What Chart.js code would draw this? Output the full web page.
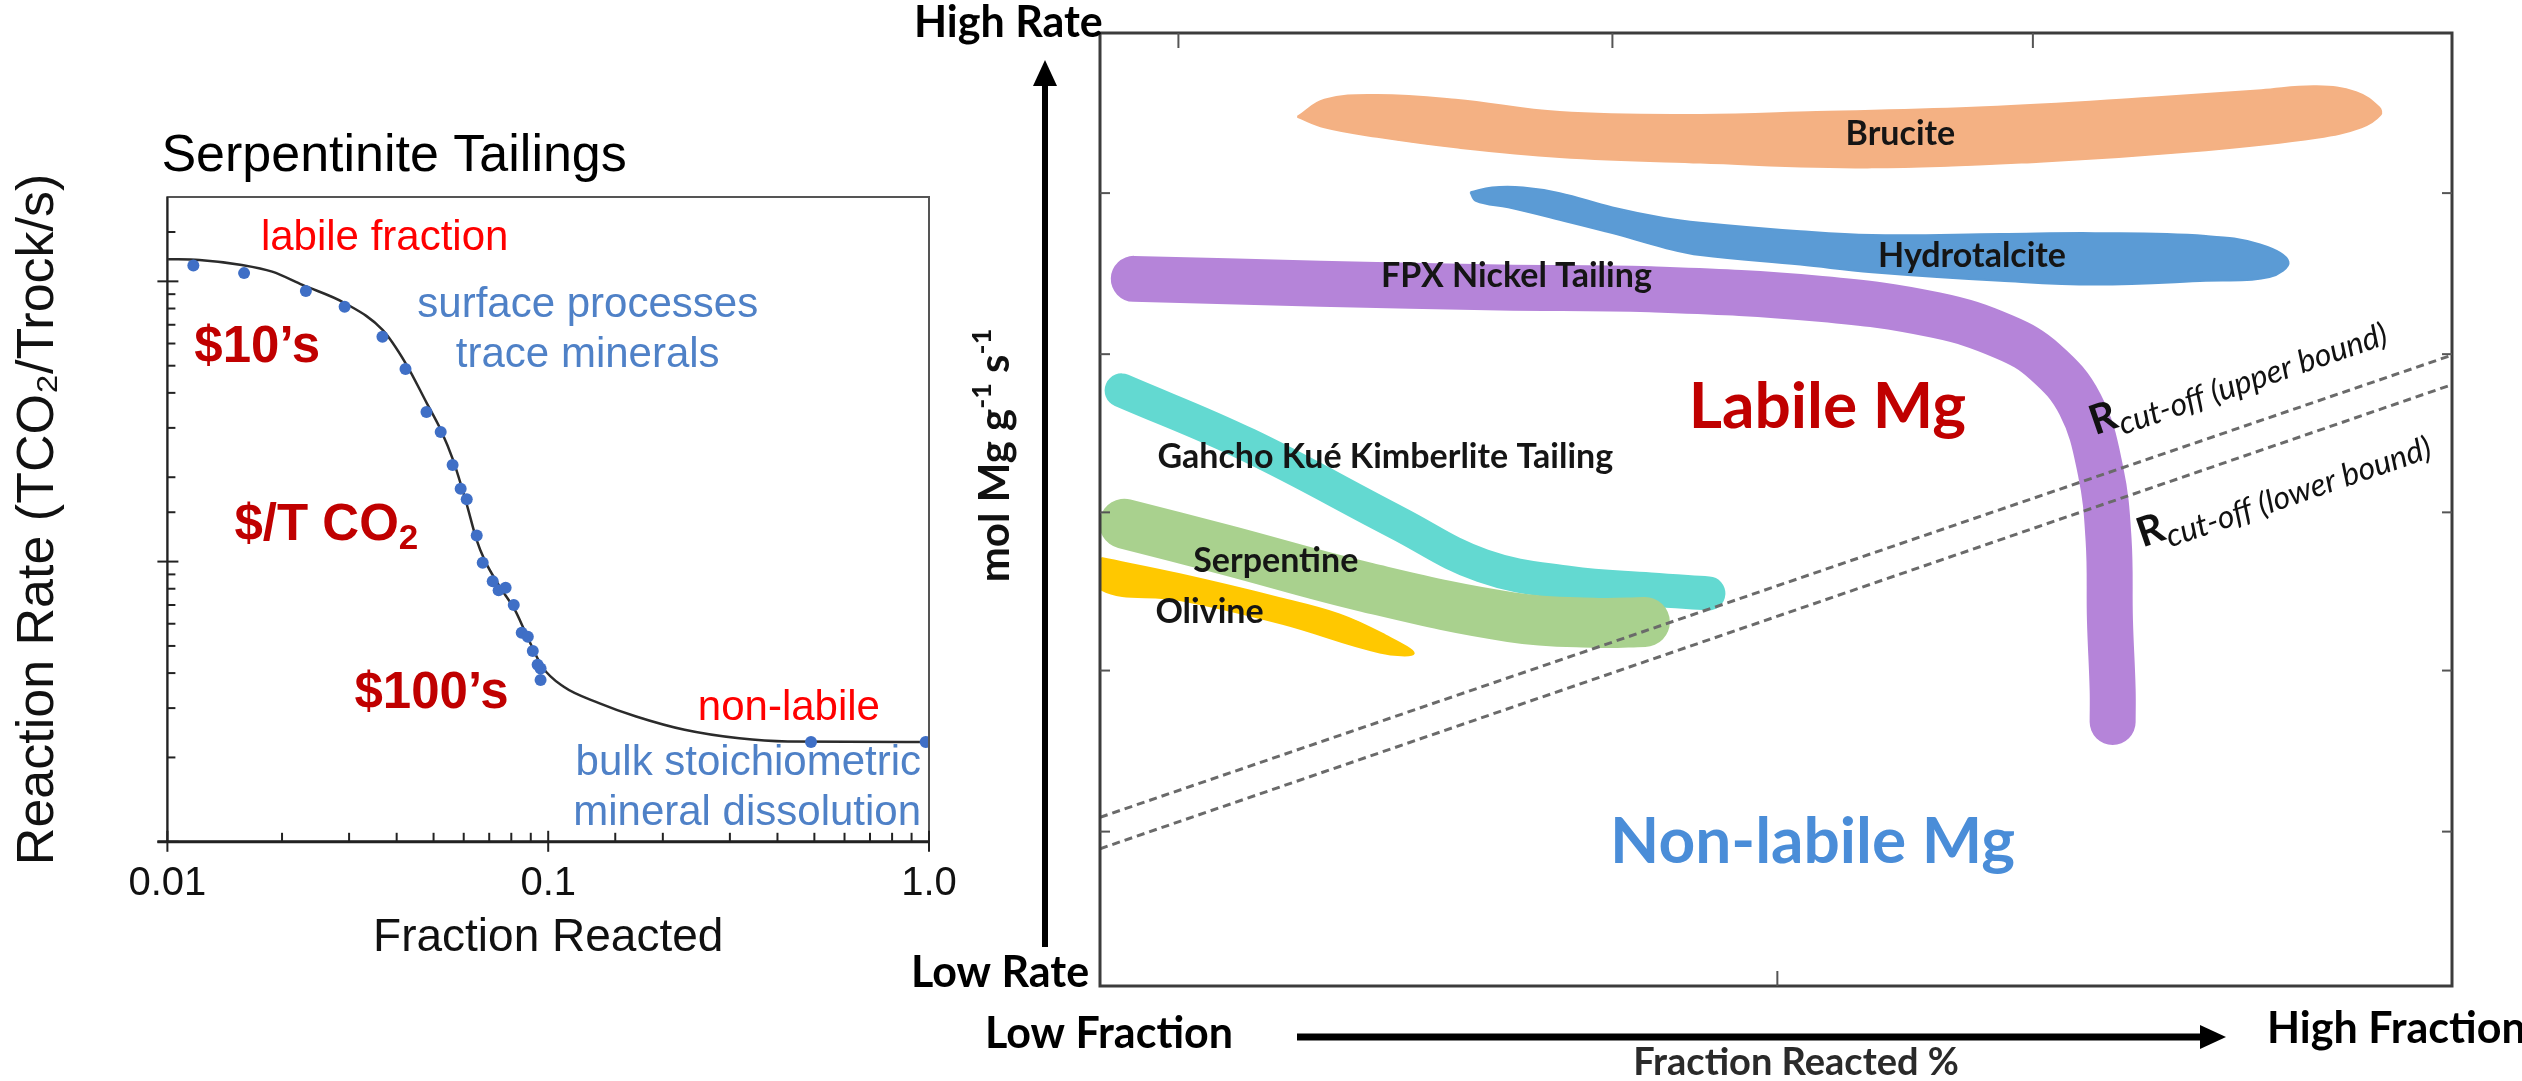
<!DOCTYPE html>
<html>
<head>
<meta charset="utf-8">
<script src="https://cdn.jsdelivr.net/npm/chart.js@4/dist/chart.umd.min.js"></script>
<style>
  html, body { margin: 0; padding: 0; background: #fff; }
  body { width: 2522px; height: 1081px; position: relative; overflow: hidden; }
  #left { position: absolute; left: 0; top: 0; }
  #right { position: absolute; left: 880px; top: 0; }
</style>
</head>
<body>
<canvas id="left" width="975" height="1081"></canvas>
<canvas id="right" width="1642" height="1081"></canvas>
<script>
// ---- left panel: Serpentinite Tailings (log / log) ----
const fractionTicks = [0.01, 0.1, 1];
const fractionTickLabels = ['0.01', '0.1', '1.0'];

// measured points (blue dots)
const sampleFraction = [0.0117, 0.0159, 0.0231, 0.0292, 0.0367, 0.0422, 0.0479, 0.0522, 0.0561, 0.0589,
  0.0611, 0.0649, 0.0673, 0.0715, 0.0741, 0.0773, 0.0812, 0.0852, 0.0884, 0.0911, 0.0938, 0.0955, 0.0955, 0.49, 0.98];
const sampleRate = [114, 107, 92.4, 81.1, 63.4, 48.7, 34.2, 29.0, 22.1, 18.2,
  16.7, 12.4, 9.9, 8.5, 7.9, 8.06, 7.0, 5.57, 5.39, 4.8, 4.28, 4.15, 3.78, 2.27, 2.27];

// fitted curve (black line)
const fitFraction = [0.01, 0.01214, 0.01568, 0.01884, 0.02263, 0.02928, 0.03673, 0.04224, 0.04802, 0.05224,
  0.05622, 0.06095, 0.06486, 0.06803, 0.07456, 0.08175, 0.0873, 0.0964, 0.1096, 0.1365,
  0.1702, 0.2282, 0.3175, 0.4257, 1.0];
const fitRate = [120, 119.2, 114.4, 108.3, 97.1, 83.5, 67.1, 51.0, 36.7, 29.5,
  23.1, 16.2, 11.95, 10.14, 8.14, 6.72, 5.55, 4.22, 3.58, 3.12,
  2.80, 2.51, 2.34, 2.28, 2.27];

// ---- right panel: schematic (x = fraction reacted, y = rate, both 0..100) ----
const bruciteX = [14.6, 16.6, 20.5, 26.3, 34.0, 44.4, 53.0, 65.4, 77.7, 85.9, 90.0, 92.9, 94.6, 94.7,
  93.3, 90.0, 81.8, 69.5, 57.1, 44.4, 34.0, 26.3, 20.5, 16.6, 14.6];
const bruciteY = [91.2, 93.0, 93.5, 93.0, 91.7, 91.4, 91.7, 92.2, 93.2, 94.0, 94.4, 93.8, 92.2, 91.4,
  90.1, 89.0, 87.7, 86.5, 85.9, 86.4, 87.0, 88.0, 89.1, 90.1, 91.2];

const hydrotalciteX = [27.4, 29.0, 31.3, 34.0, 37.9, 41.7, 44.4, 51.8, 57.1, 66.6, 73.6, 81.8, 85.8, 87.9,
  86.5, 81.8, 73.6, 66.6, 57.1, 51.8, 44.4, 41.7, 37.9, 34.0, 30.2, 27.8, 27.4];
const hydrotalciteY = [83.3, 83.8, 83.8, 83.2, 81.7, 80.6, 80.1, 79.2, 78.8, 78.9, 79.0, 78.7, 77.8, 76.0,
  74.4, 74.0, 73.6, 74.0, 74.9, 75.7, 76.7, 77.5, 79.0, 80.4, 81.7, 82.4, 83.3];

const fpxX = [2.5, 16.3, 29.6, 40.7, 53.3, 61.8, 66.9, 69.9, 72.5, 74.0, 74.6, 74.7, 74.9, 74.9];
const fpxY = [74.2, 73.7, 73.3, 73.1, 72.1, 70.4, 68.1, 65.5, 61.0, 54.1, 46.8, 38.4, 31.1, 27.7];

const gahchoX = [1.6, 10.9, 22.0, 28.3, 34.7, 40.7, 45.0];
const gahchoY = [62.5, 56.8, 48.6, 44.1, 42.3, 41.6, 41.2];

const serpentineX = [1.8, 9.2, 19.8, 30.4, 36.8, 40.3];
const serpentineY = [48.5, 45.8, 41.8, 38.7, 38.1, 38.2];

const olivineX = [0.1, 5.9, 13.3, 17.7, 21.1, 23.2, 20.7, 13.5, 5.9, 0.1, 0.1];
const olivineY = [44.9, 43.2, 40.7, 39.0, 36.8, 34.9, 35.0, 38.0, 40.5, 41.6, 44.9];

const cutoffX = [0, 100];
const cutoffUpperY = [17.7, 66.2];
const cutoffLowerY = [14.4, 63.1];

const frameTopTicks = [5.8, 37.9, 69.0];
const frameBottomTicks = [50.1];
const frameSideTicks = [83.2, 66.3, 49.7, 33.1, 16.2];

const LEFT_FONT = '"Liberation Sans", Arial, sans-serif';
const RIGHT_FONT = 'Lato, "Open Sans", sans-serif';
const OFFICE_BLUE = '#4F81C7';

Chart.defaults.font.family = LEFT_FONT;

const pts = (xs, ys) => xs.map((v, i) => ({ x: v, y: ys[i] }));
const isDecade = v => Math.abs(Math.log10(v) - Math.round(Math.log10(v))) < 1e-6;

// draw a run of text pieces (for subscripts / superscripts)
function drawRich(ctx, parts, x, y, align) {
  let total = 0;
  parts.forEach(p => { ctx.font = p.font; total += ctx.measureText(p.text).width; });
  let cx = align === 'center' ? x - total / 2 : align === 'right' ? x - total : x;
  ctx.textAlign = 'left';
  parts.forEach(p => {
    ctx.font = p.font;
    ctx.fillText(p.text, cx, y + (p.dy || 0));
    cx += ctx.measureText(p.text).width;
  });
}

function arrow(ctx, x1, y1, x2, y2, shaft, headLen, headHalf) {
  const ang = Math.atan2(y2 - y1, x2 - x1);
  const len = Math.hypot(x2 - x1, y2 - y1);
  ctx.save();
  ctx.translate(x1, y1);
  ctx.rotate(ang);
  ctx.fillStyle = '#000';
  ctx.fillRect(0, -shaft / 2, len - headLen + 1, shaft);
  ctx.beginPath();
  ctx.moveTo(len, 0);
  ctx.lineTo(len - headLen, -headHalf);
  ctx.lineTo(len - headLen, headHalf);
  ctx.closePath();
  ctx.fill();
  ctx.restore();
}

// ---------- left chart ----------
const leftNotes = [
  { parts: ['labile fraction'], x: 0.0176, y: 129, align: 'left', color: '#FF0000', size: 42 },
  { parts: ['surface processes'], x: 0.127, y: 74.6, align: 'center', color: OFFICE_BLUE, size: 42 },
  { parts: ['trace minerals'], x: 0.127, y: 49.5, align: 'center', color: OFFICE_BLUE, size: 42 },
  { parts: ['$10\u2019s'], x: 0.01177, y: 51.6, align: 'left', color: '#C00000', size: 51, bold: true },
  { parts: ['$/T CO', '2'], x: 0.015, y: 11.95, align: 'left', color: '#C00000', size: 51, bold: true },
  { parts: ['$100\u2019s'], x: 0.031, y: 3.0, align: 'left', color: '#C00000', size: 51, bold: true },
  { parts: ['non-labile'], x: 0.4286, y: 2.72, align: 'center', color: '#FF0000', size: 42 },
  { parts: ['bulk stoichiometric'], x: 0.953, y: 1.734, align: 'right', color: OFFICE_BLUE, size: 42 },
  { parts: ['mineral dissolution'], x: 0.953, y: 1.15, align: 'right', color: OFFICE_BLUE, size: 42 }
];

const leftDecor = {
  id: 'leftDecor',
  afterDraw(chart) {
    const { ctx, chartArea: a, scales: { x, y } } = chart;
    ctx.save();
    // frame
    ctx.strokeStyle = '#555';
    ctx.lineWidth = 2;
    ctx.strokeRect(a.left, a.top, a.right - a.left, a.bottom - a.top);
    ctx.strokeStyle = '#222';
    ctx.lineWidth = 3;
    ctx.beginPath();
    ctx.moveTo(a.left - 10, a.bottom); ctx.lineTo(a.right, a.bottom);
    ctx.stroke();
    ctx.lineWidth = 2;
    ctx.beginPath();
    ctx.moveTo(a.left, a.top); ctx.lineTo(a.left, a.bottom);
    ctx.stroke();

    // tick marks, inward for minor, crossing for decades
    ctx.strokeStyle = '#222';
    ctx.lineWidth = 2;
    x.ticks.forEach(t => {
      const px = x.getPixelForValue(t.value);
      const major = isDecade(t.value);
      ctx.beginPath();
      ctx.moveTo(px, a.bottom + (major ? 10 : 0));
      ctx.lineTo(px, a.bottom - (major ? 11 : 9));
      ctx.stroke();
    });
    y.ticks.forEach(t => {
      if (t.value >= y.max) return;
      const py = y.getPixelForValue(t.value);
      const major = isDecade(t.value);
      ctx.beginPath();
      ctx.moveTo(a.left - (major ? 10 : 0), py);
      ctx.lineTo(a.left + (major ? 11 : 8), py);
      ctx.stroke();
    });

    // panel title
    ctx.fillStyle = '#000';
    ctx.textBaseline = 'alphabetic';
    ctx.textAlign = 'left';
    ctx.font = '52px ' + LEFT_FONT;
    ctx.fillText('Serpentinite Tailings', a.left - 6, a.top - 26);

    // annotations
    leftNotes.forEach(n => {
      ctx.fillStyle = n.color;
      const base = (n.bold ? 'bold ' : '') + n.size + 'px ' + LEFT_FONT;
      const sub = (n.bold ? 'bold ' : '') + Math.round(n.size * 0.68) + 'px ' + LEFT_FONT;
      const parts = n.parts.map((t, i) => i === 0 ? { text: t, font: base } : { text: t, font: sub, dy: 9 });
      drawRich(ctx, parts, x.getPixelForValue(n.x), y.getPixelForValue(n.y), n.align);
    });
    ctx.restore();
  }
};

new Chart(document.getElementById('left'), {
  type: 'line',
  data: {
    datasets: [
      {
        label: 'Measured',
        data: pts(sampleFraction, sampleRate),
        showLine: false,
        pointRadius: 6,
        pointBackgroundColor: '#3F6FC6',
        pointBorderWidth: 0
      },
      {
        label: 'Fit',
        data: pts(fitFraction, fitRate),
        borderColor: '#2b2b2b',
        borderWidth: 2.5,
        pointRadius: 0,
        cubicInterpolationMode: 'monotone',
        fill: false
      }
    ]
  },
  options: {
    responsive: false,
    animation: false,
    events: [],
    layout: { padding: { left: 4, right: 46, top: 197, bottom: 111 } },
    plugins: { legend: { display: false }, tooltip: { enabled: false } },
    scales: {
      x: {
        type: 'logarithmic',
        min: 0.01,
        max: 1,
        border: { display: false },
        grid: { display: false, drawTicks: false },
        ticks: {
          autoSkip: false,
          maxRotation: 0,
          padding: 18,
          color: '#111',
          font: { size: 40 },
          callback: v => {
            const i = fractionTicks.findIndex(t => Math.abs(Math.log10(t) - Math.log10(v)) < 1e-6);
            return i >= 0 ? fractionTickLabels[i] : '';
          }
        },
        title: { display: true, text: 'Fraction Reacted', color: '#111', font: { size: 46 }, padding: { top: -15, bottom: 4 } }
      },
      y: {
        type: 'logarithmic',
        min: 1,
        max: 200,
        border: { display: false },
        grid: { display: false, drawTicks: false },
        ticks: { display: false },
        title: { display: true, text: 'Reaction Rate (TCO\u2082/Trock/s)', color: '#111', font: { size: 52 }, padding: { top: 3, bottom: 98 } }
      }
    }
  },
  plugins: [leftDecor]
});

// ---------- right chart ----------
const rightNotes = [
  { text: 'Brucite', x: 59.2, y: 88.2, size: 34 },
  { text: 'Hydrotalcite', x: 64.5, y: 75.4, size: 34 },
  { text: 'FPX Nickel Tailing', x: 30.8, y: 73.3, size: 34 },
  { text: 'Gahcho Ku\u00e9 Kimberlite Tailing', x: 21.1, y: 54.4, size: 34 },
  { text: 'Serpentine', x: 13.0, y: 43.4, size: 34 },
  { text: 'Olivine', x: 8.1, y: 38.1, size: 34 },
  { text: 'Labile Mg', x: 53.8, y: 58.6, size: 64, color: '#C00000' },
  { text: 'Non-labile Mg', x: 52.7, y: 12.9, size: 64, color: '#4A8DD8' }
];
const cutoffNotes = [
  { sub: 'cut-off (upper bound)', x: 73.6, y: 57.8 },
  { sub: 'cut-off (lower bound)', x: 77.1, y: 46.0 }
];

const rightDecor = {
  id: 'rightDecor',
  afterDraw(chart) {
    const { ctx, chartArea: a, scales: { x, y } } = chart;
    ctx.save();

    // frame and its ticks
    ctx.strokeStyle = '#3c3c3c';
    ctx.lineWidth = 3;
    ctx.strokeRect(a.left, a.top, a.right - a.left, a.bottom - a.top);
    ctx.strokeStyle = '#555';
    ctx.lineWidth = 2;
    frameTopTicks.forEach(v => {
      const px = x.getPixelForValue(v);
      ctx.beginPath(); ctx.moveTo(px, a.top); ctx.lineTo(px, a.top + 15); ctx.stroke();
    });
    frameBottomTicks.forEach(v => {
      const px = x.getPixelForValue(v);
      ctx.beginPath(); ctx.moveTo(px, a.bottom); ctx.lineTo(px, a.bottom - 15); ctx.stroke();
    });
    frameSideTicks.forEach(v => {
      const py = y.getPixelForValue(v);
      ctx.beginPath(); ctx.moveTo(a.left, py); ctx.lineTo(a.left + 10, py); ctx.stroke();
      ctx.beginPath(); ctx.moveTo(a.right, py); ctx.lineTo(a.right - 10, py); ctx.stroke();
    });

    // band labels
    ctx.textBaseline = 'alphabetic';
    rightNotes.forEach(n => {
      ctx.fillStyle = n.color || '#151515';
      ctx.font = 'bold ' + n.size + 'px ' + RIGHT_FONT;
      ctx.textAlign = 'center';
      ctx.fillText(n.text, x.getPixelForValue(n.x), y.getPixelForValue(n.y));
    });

    // R cut-off labels, parallel to the dashed lines
    cutoffNotes.forEach(n => {
      ctx.save();
      ctx.translate(x.getPixelForValue(n.x), y.getPixelForValue(n.y));
      ctx.rotate(-19 * Math.PI / 180);
      ctx.fillStyle = '#111';
      drawRich(ctx, [
        { text: 'R', font: 'bold 41px ' + RIGHT_FONT },
        { text: n.sub, font: 'italic 32px ' + RIGHT_FONT, dy: 9 }
      ], 0, 0, 'left');
      ctx.restore();
    });

    // axis arrows and their words
    const ax = a.left - 55;
    arrow(ctx, ax, a.bottom - 39, ax, a.top + 27, 6, 26, 12);
    arrow(ctx, a.left + 197, a.bottom + 51, a.left + 1126, a.bottom + 51, 7, 26, 12);

    ctx.fillStyle = '#000';
    ctx.textAlign = 'left';
    ctx.font = 'bold 43px ' + RIGHT_FONT;
    ctx.fillText('High Rate', a.left - 186, a.top + 4);
    ctx.fillText('Low Rate', a.left - 189, a.bottom + 1);
    ctx.fillText('Low Fraction', a.left - 115, a.bottom + 62);
    ctx.fillText('High Fraction', a.left + 1167, a.bottom + 57);
    ctx.fillStyle = '#2a2a2a';
    ctx.textAlign = 'center';
    ctx.font = 'bold 38px ' + RIGHT_FONT;
    ctx.fillText('Fraction Reacted %', a.left + 696, a.bottom + 89);

    // rotated unit label
    ctx.save();
    ctx.translate(a.left - 105, (a.top + a.bottom) / 2 - 54);
    ctx.rotate(-Math.PI / 2);
    ctx.fillStyle = '#111';
    ctx.textBaseline = 'middle';
    drawRich(ctx, [
      { text: 'mol Mg g', font: 'bold 42px ' + RIGHT_FONT },
      { text: '-1', font: 'bold 27px ' + RIGHT_FONT, dy: -13 },
      { text: ' s', font: 'bold 42px ' + RIGHT_FONT },
      { text: '-1', font: 'bold 27px ' + RIGHT_FONT, dy: -13 }
    ], 0, 0, 'center');
    ctx.restore();

    ctx.restore();
  }
};

const band = (label, xs, ys, color, width) => ({
  label, data: pts(xs, ys), borderColor: color, borderWidth: width,
  borderCapStyle: 'round', borderJoinStyle: 'round', tension: 0.4,
  pointRadius: 0, fill: false, clip: 0
});
const blob = (label, xs, ys, color) => ({
  label, data: pts(xs, ys), borderColor: color, backgroundColor: color, borderWidth: 2,
  tension: 0.4, pointRadius: 0, fill: 'shape', clip: 0
});
const dashed = (label, ys) => ({
  label, data: pts(cutoffX, ys), borderColor: '#6a6a6a', borderWidth: 3,
  borderDash: [8, 5], pointRadius: 0, fill: false, tension: 0
});

new Chart(document.getElementById('right'), {
  type: 'line',
  data: {
    datasets: [
      dashed('R cut-off (upper bound)', cutoffUpperY),
      dashed('R cut-off (lower bound)', cutoffLowerY),
      blob('Olivine', olivineX, olivineY, '#FFC800'),
      band('Serpentine', serpentineX, serpentineY, '#A9D18E', 50),
      band('Gahcho Kué Kimberlite Tailing', gahchoX, gahchoY, '#63D9D1', 34),
      band('FPX Nickel Tailing', fpxX, fpxY, '#B584D9', 46),
      blob('Hydrotalcite', hydrotalciteX, hydrotalciteY, '#5B9BD5'),
      blob('Brucite', bruciteX, bruciteY, '#F4B183')
    ]
  },
  options: {
    responsive: false,
    animation: false,
    events: [],
    layout: { padding: { left: 220, right: 70, top: 33, bottom: 95 } },
    plugins: { legend: { display: false }, tooltip: { enabled: false } },
    scales: {
      x: { type: 'linear', min: 0, max: 100, display: false },
      y: { type: 'linear', min: 0, max: 100, display: false }
    }
  },
  plugins: [rightDecor]
});
</script>
</body>
</html>
